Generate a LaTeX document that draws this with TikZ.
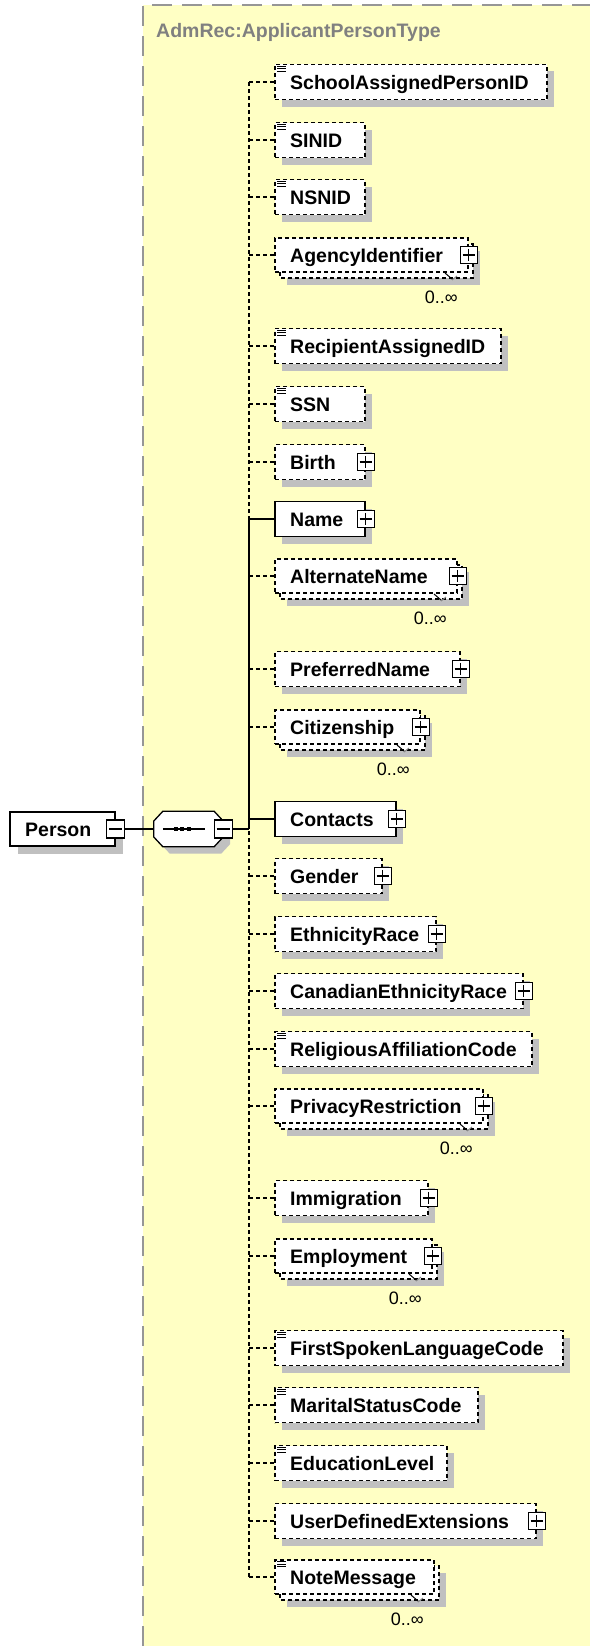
\documentclass[tikz,border=0pt]{standalone}
\usepackage{fontspec}
\setmainfont{Liberation Sans}
\usetikzlibrary{calc}
\definecolor{bgyellow}{RGB}{255,255,196}
\definecolor{shadowgray}{RGB}{192,192,192}
\definecolor{framegray}{RGB}{150,150,150}
\definecolor{titlegray}{RGB}{128,128,128}
\newcommand\lblfont{\bfseries\fontsize{19.5}{22}\selectfont}
\tikzset{
  optbox/.style={draw=black, fill=white, line width=1.3pt, dash pattern=on 4pt off 3pt, inner sep=0pt, minimum height=35pt},
  reqbox/.style={draw=black, fill=white, line width=1.6pt, inner sep=0pt, minimum height=35pt},
  backbox/.style={draw=black, fill=white, line width=1.3pt, dash pattern=on 4pt off 3pt},
  shade/.style={fill=shadowgray},
  lbl/.style={font=\lblfont, anchor=base west, inner sep=0pt},
  occ/.style={font=\fontsize{18}{20}\selectfont, anchor=base east, inner sep=0pt},
  btn/.style={draw=black, fill=white, line width=1.2pt, minimum width=17pt, minimum height=17pt, inner sep=0pt},
  sign/.style={line width=1.2pt},
  dconn/.style={line width=1.3pt, dash pattern=on 4pt off 3pt},
  sconn/.style={line width=1.5pt},
  icon/.style={line width=1.2pt},
  tick/.style={line width=1pt},
}
\newcommand\OptElem[4]{%
  \fill[shade] (282,#3-10.5) rectangle (#4+7,#3+24.5);
  \node[optbox, minimum width={#4-275}] (#1) at ({(275+#4)/2},#3) {};
  \node[lbl] (#1-t) at (290,#3+7) {#2};
}
\newcommand\ReqElem[4]{%
  \fill[shade] (282,#3-10.5) rectangle (#4+7,#3+24.5);
  \node[reqbox, minimum width={#4-275}] (#1) at ({(275+#4)/2},#3) {};
  \node[lbl] (#1-t) at (290,#3+7) {#2};
}
\newcommand\MultiElem[4]{%
  \fill[shade] (287,#3-4) rectangle (#4+12,#3+30);
  \draw[backbox] (280,#3-11) rectangle (#4+5,#3+23);
  \node[optbox, minimum height=34pt, minimum width={#4-275}] (#1) at ({(275+#4)/2},#3) {};
  \draw[tick] (#4-23,#3+18) -- (#4-16,#3+24);
  \draw[tick, shadowgray!70!black] (#4-16,#3+25) -- (#4-11,#3+21);
  \node[lbl] (#1-t) at (290,#3+7) {#2};
  \node[occ] (#1-o) at (#4-10,#3+48) {0..∞};
}
\newcommand\PlusBtn[1]{%
  \node[btn] (#1-b) at (#1.east) {};
  \draw[sign] ($(#1-b.west)+(3,0)$) -- ($(#1-b.east)+(-3,0)$);
  \draw[sign] ($(#1-b.north)+(0,3)$) -- ($(#1-b.south)+(0,-3)$);
}
\newcommand\MinusBtn[2]{%
  \node[btn, minimum width=18pt, minimum height=18pt] (#1) at (#2) {};
  \draw[sign] ($(#1.west)+(3,0)$) -- ($(#1.east)+(-3,0)$);
}
\newcommand\SimpIcon[1]{%
  \foreach \dy in {2.5,5,7.5} \draw[icon] ($(#1.north west)+(3,\dy)$) -- ++(9,0);
}
\begin{document}
\begin{tikzpicture}[x=1pt,y=-1pt]
\useasboundingbox (0,0) rectangle (590,1646);
\fill[white] (0,0) rectangle (590,1646);
% type area
\fill[bgyellow] (143,5) rectangle (590,1646);
\draw[framegray, line width=2pt, dash pattern=on 20pt off 10pt] (143,1646) -- (143,5) -- (590,5);
\node[font=\lblfont, text=titlegray, anchor=base west, inner sep=0pt] (title) at (156,38) {AdmRec:ApplicantPersonType};

% root element
\fill[shade] (18,820) rectangle (123,854);
\node[reqbox, minimum width=105pt, minimum height=34pt] (person) at (62.5,829) {};
\node[lbl] (person-t) at (25,836) {Person};
\MinusBtn{person-b}{person.east}

% sequence compositor
\node[inner sep=0pt, minimum width=69pt, minimum height=35pt] (seq) at (188.5,829) {};
\fill[shade] ($(seq.west)+(7,-1)$) -- ($(seq.north west)+(16,7)$) -- ($(seq.north east)+(-2,7)$) -- ($(seq.east)+(7,-1)$) -- ($(seq.east)+(7,15)$) -- ($(seq.south east)+(-2,7)$) -- ($(seq.south west)+(16,7)$) -- ($(seq.west)+(7,15)$) -- cycle;
\draw[fill=white, line width=1.3pt] ($(seq.west)+(0,-8)$) -- ($(seq.north west)+(9,0)$) -- ($(seq.north east)+(-9,0)$) -- ($(seq.east)+(0,-8)$) -- ($(seq.east)+(0,8)$) -- ($(seq.south east)+(-9,0)$) -- ($(seq.south west)+(9,0)$) -- ($(seq.west)+(0,8)$) -- cycle;
\draw[line width=1.3pt] ($(seq.west)+(9,0)$) -- ($(seq.west)+(51,0)$);
\foreach \dx in {22,28.5,35} \fill ($(seq.west)+(\dx-2,-2)$) rectangle ++(4,4);
\MinusBtn{seq-b}{seq.east}

% child elements
\OptElem{sapid}{SchoolAssignedPersonID}{82}{547} \SimpIcon{sapid}
\OptElem{sinid}{SINID}{140}{365} \SimpIcon{sinid}
\OptElem{nsnid}{NSNID}{197}{365} \SimpIcon{nsnid}
\MultiElem{agency}{AgencyIdentifier}{255}{468} \PlusBtn{agency}
\OptElem{recip}{RecipientAssignedID}{346}{501} \SimpIcon{recip}
\OptElem{ssn}{SSN}{404}{365} \SimpIcon{ssn}
\OptElem{birth}{Birth}{462}{365} \PlusBtn{birth}
\ReqElem{name}{Name}{519}{365} \PlusBtn{name}
\MultiElem{altname}{AlternateName}{576}{457} \PlusBtn{altname}
\OptElem{prefname}{PreferredName}{669}{460} \PlusBtn{prefname}
\MultiElem{citizen}{Citizenship}{727}{420} \PlusBtn{citizen}
\ReqElem{contacts}{Contacts}{819}{396} \PlusBtn{contacts}
\OptElem{gender}{Gender}{876}{382} \PlusBtn{gender}
\OptElem{ethn}{EthnicityRace}{934}{436} \PlusBtn{ethn}
\OptElem{canethn}{CanadianEthnicityRace}{991}{523} \PlusBtn{canethn}
\OptElem{relig}{ReligiousAffiliationCode}{1049}{532} \SimpIcon{relig}
\MultiElem{privacy}{PrivacyRestriction}{1106}{483} \PlusBtn{privacy}
\OptElem{immig}{Immigration}{1198}{428} \PlusBtn{immig}
\MultiElem{employ}{Employment}{1256}{432} \PlusBtn{employ}
\OptElem{firstlang}{FirstSpokenLanguageCode}{1348}{563} \SimpIcon{firstlang}
\OptElem{marital}{MaritalStatusCode}{1405}{478} \SimpIcon{marital}
\OptElem{educ}{EducationLevel}{1463}{447} \SimpIcon{educ}
\OptElem{userdef}{UserDefinedExtensions}{1521}{536} \PlusBtn{userdef}
\MultiElem{note}{NoteMessage}{1577}{434} \SimpIcon{note}

% connectors
\coordinate (tMid) at (249,829);
\draw[sconn] (person-b.east) -- (seq.west);
\draw[sconn] (seq-b.east) -- (tMid);
\draw[dconn] (sapid.west -| tMid) -- (note.west -| tMid);
\foreach \n in {sapid,sinid,nsnid,agency,recip,ssn,birth,altname,prefname,citizen,gender,ethn,canethn,relig,privacy,immig,employ,firstlang,marital,educ,userdef,note}
  \draw[dconn] (\n.west -| tMid) -- (\n.west);
\draw[sconn] (name.west) -- (name.west -| tMid) -- (tMid);
\draw[sconn] (contacts.west) -- (contacts.west -| tMid);
\end{tikzpicture}
\end{document}
